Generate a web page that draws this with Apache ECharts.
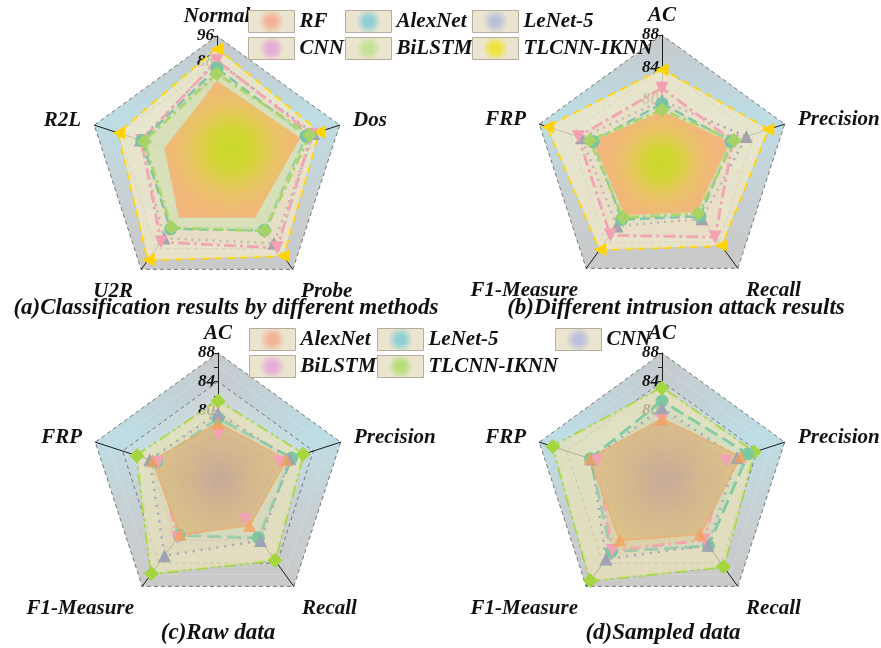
<!DOCTYPE html>
<html>
<head>
<meta charset="utf-8">
<script src="https://cdn.jsdelivr.net/npm/echarts@6/dist/echarts.min.js"></script>
<style>
html, body { margin: 0; padding: 0; background: #fff; }
#main { width: 881px; height: 648px; }
</style>
</head>
<body>
<div id="main"></div>
<script>
// indicator order is counter-clockwise from the top (echarts default)
const attackNames = ['Normal', 'R2L', 'U2R', 'Probe', 'Dos'];
const metricNames = ['AC', 'FRP', 'F1-Measure', 'Recall', 'Precision'];

const methodsAB = ['RF', 'AlexNet', 'LeNet-5', 'CNN', 'BiLSTM', 'TLCNN-IKNN'];
const methodsCD = ['AlexNet', 'LeNet-5', 'CNN', 'BiLSTM', 'TLCNN-IKNN'];

// (a) classification results, [Normal, R2L, U2R, Probe, Dos]
const aRF      = [82.0, 73.0, 76.0, 76.0, 83.0];
const aAlexNet = [86.0, 80.5, 80.5, 81.0, 85.0];
const aLeNet   = [88.0, 81.0, 84.0, 86.0, 87.5];
const aCNN     = [88.3, 80.6, 85.5, 87.7, 86.8];
const aBiLSTM  = [84.3, 79.7, 80.0, 81.2, 86.2];
const aTLCNN   = [92.0, 88.0, 92.3, 90.8, 89.2];

// (b) intrusion attack results, [AC, FRP, F1, Recall, Precision]
const bRF      = [78.5, 81.0, 79.8, 79.3, 80.8];
const bAlexNet = [79.5, 81.0, 80.5, 80.0, 81.0];
const bLeNet   = [79.9, 82.5, 81.5, 80.4, 83.0];
const bCNN     = [81.4, 82.9, 82.9, 83.2, 81.2];
const bBiLSTM  = [78.7, 81.4, 80.2, 79.6, 81.4];
const bTLCNN   = [83.7, 86.9, 85.1, 84.5, 85.8];

// (c) raw data
const cAlexNet = [78.2, 79.6, 79.0, 77.5, 80.0];
const cLeNet   = [78.9, 79.0, 79.2, 79.6, 80.8];
const cCNN     = [79.6, 80.0, 82.7, 80.1, 80.5];
const cBiLSTM  = [76.6, 78.8, 79.6, 76.5, 79.0];
const cTLCNN   = [81.3, 81.9, 85.8, 83.5, 82.5];

// (d) sampled data
const dAlexNet = [78.8, 80.6, 80.0, 79.0, 81.5];
const dLeNet   = [81.3, 80.5, 82.0, 81.0, 82.6];
const dCNN     = [80.3, 80.3, 83.3, 80.9, 81.0];
const dBiLSTM  = [78.5, 79.5, 81.8, 80.0, 79.4];
const dTLCNN   = [83.1, 86.0, 87.0, 84.6, 83.5];

const labelsA = [96, 88, 80];
const labelsB = [88, 84, 80];

const titles = ['(a)Classification results by different methods', '(b)Different intrusion attack results',
                '(c)Raw data', '(d)Sampled data'];

// names sitting at the two lower corners get pushed a bit further down
const lowNames = ['U2R', 'Probe', 'F1-Measure', 'Recall'];

const FONT = { fontFamily: 'Liberation Serif', fontStyle: 'italic', fontWeight: 'bold', color: '#111' };

function radial(stops, r) {
    return new echarts.graphic.RadialGradient(0.5, 0.5, r || 0.6, stops.map(s => ({ offset: s[0], color: s[1] })));
}

function swatch(c) {
    return new echarts.graphic.RadialGradient(0.5, 0.5, 0.55, [
        { offset: 0, color: c }, { offset: 0.35, color: c }, { offset: 1, color: '#ebe4cf' }
    ]);
}

// look of each method, panels (a)/(b); z = drawing order inside the panel
const lookAB = {
    'TLCNN-IKNN': { z: 0, line: '#ffd400', type: [8, 5], w: 3, symbol: 'triangle', rot: 90, sw: '#efe23c',
                    area: 'rgba(238,231,200,0.82)' },
    'LeNet-5':    { z: 1, line: '#a4a4ac', type: [2, 5], w: 2.5, symbol: 'triangle', rot: 0, sw: '#bcc2dc',
                    area: 'rgba(225,222,205,0.2)' },
    'CNN':        { z: 2, line: '#f2a0b2', type: [12, 4, 3, 4], w: 3, symbol: 'triangle', rot: 180, sw: '#e8acd8',
                    area: 'rgba(236,215,190,0.3)' },
    'AlexNet':    { z: 3, line: '#78c4a8', type: [10, 5], w: 2.5, symbol: 'circle', rot: 0, sw: '#8fd0d4',
                    area: 'rgba(190,220,200,0.25)' },
    'BiLSTM':     { z: 4, line: '#a6d266', type: [10, 4, 3, 4], w: 3, symbol: 'diamond', rot: 0, sw: '#c4e296',
                    area: 'rgba(205,228,160,0.35)' },
    'RF':         { z: 5, line: 'rgba(244,162,98,0.5)', type: 'solid', w: 1, symbol: 'none', rot: 0, sw: '#f2b496',
                    area: radial([[0, '#c9d929'], [0.24, '#d2d634'], [0.52, '#e9c466'], [0.78, '#f0b878'], [1, '#f2b67e']], 0.62) }
};

// look of each method, panels (c)/(d)
const lookCD = {
    'TLCNN-IKNN': { z: 0, line: '#a4d640', type: [12, 4, 3, 3, 3, 4], w: 3, symbol: 'diamond', rot: 0, sw: '#b8de78',
                    area: 'rgba(232,226,184,0.75)' },
    'LeNet-5':    { z: 1, line: '#7cc8a0', type: [14, 6], w: 3, symbol: 'circle', rot: 0, sw: '#8fd0d4',
                    area: 'rgba(190,222,190,0.3)' },
    'CNN':        { z: 2, line: '#9ea4b4', type: [2, 6], w: 2.5, symbol: 'triangle', rot: 0, sw: '#bcc2dc',
                    area: 'rgba(215,210,185,0.3)' },
    'BiLSTM':     { z: 3, line: '#f2a2b4', type: [12, 4, 3, 4], w: 3, symbol: 'triangle', rot: 180, sw: '#e8acd8',
                    area: 'rgba(228,200,150,0.45)' },
    'AlexNet':    { z: 4, line: 'rgba(244,160,90,0.75)', type: 'solid', w: 2, symbol: 'triangle', rot: 0, sw: '#f2b496',
                    area: radial([[0, 'rgba(198,166,150,0.92)'], [0.45, 'rgba(208,178,138,0.85)'], [1, 'rgba(222,192,130,0.85)']], 0.62) }
};

function radarItem(name, values, look) {
    return {
        name: name,
        value: values,
        symbol: look.symbol,
        symbolSize: look.symbol === 'diamond' ? 15 : 13,
        symbolRotate: look.rot,
        itemStyle: { color: look.line },
        lineStyle: { color: look.line, width: look.w, type: look.type },
        areaStyle: { color: look.area, opacity: 1 }
    };
}

function band(top, mid, bottom) {
    return new echarts.graphic.LinearGradient(0, 0, 0, 1, [
        { offset: 0, color: top }, { offset: 0.35, color: mid }, { offset: 0.7, color: '#c8d0d3' }, { offset: 1, color: bottom }
    ]);
}

function makeRadar(center, names, min, max, splitNumber, shown, bands, lines) {
    return {
        center: center,
        radius: 129,
        startAngle: 90,
        shape: 'polygon',
        splitNumber: splitNumber,
        axisNameGap: 14,
        axisName: Object.assign({
            fontSize: 21,
            formatter: n => lowNames.indexOf(n) >= 0 ? '{low|' + n + '}' : n,
            rich: { low: Object.assign({ fontSize: 21, padding: [22, 0, 0, 0] }, FONT) }
        }, FONT),
        indicator: names.map((n, i) => {
            const o = { name: n, min: min, max: max };
            if (i === 0) {
                o.nameGap = 9;
                o.axisLabel = {
                    show: true,
                    formatter: v => shown.indexOf(Math.round(v)) >= 0 ? String(Math.round(v)) : ''
                };
                o.axisTick = { show: true, length: 4, lineStyle: { color: '#222' } };
            }
            return o;
        }),
        axisLine: { lineStyle: { color: '#1b1b1b', width: 1 } },
        axisTick: { show: false },
        axisLabel: Object.assign({ show: false, fontSize: 17, margin: 3 }, FONT),
        splitLine: { lineStyle: { color: lines, type: [4, 3], width: 1 } },
        splitArea: { areaStyle: { color: bands } }
    };
}

const outer = band('#c6c9cc', '#bddde5', '#c9c9c9');
const inner = band('#cfd3d4', '#c4dde3', '#cdcfd0');
const bandsA = [inner, inner, inner, inner, outer];
const bandsB = [inner, inner, inner, outer];
const bandsC = [inner, inner, inner, inner, inner, inner, inner, outer, outer];

const radars = [
    makeRadar([217, 165], attackNames, 56, 96, 5, labelsA, bandsA, '#777'),
    makeRadar([662, 164], metricNames, 72, 88, 4, labelsB, bandsB, '#777'),
    makeRadar([218, 482], metricNames, 70, 88, 9, labelsB, bandsC, ['rgba(0,0,0,0)', '#777']),
    makeRadar([662, 482], metricNames, 70, 88, 9, labelsB, bandsC, ['rgba(0,0,0,0)', '#777'])
];

const seriesData = [
    [aRF, aAlexNet, aLeNet, aCNN, aBiLSTM, aTLCNN],
    [bRF, bAlexNet, bLeNet, bCNN, bBiLSTM, bTLCNN],
    [cAlexNet, cLeNet, cCNN, cBiLSTM, cTLCNN],
    [dAlexNet, dLeNet, dCNN, dBiLSTM, dTLCNN]
];

const series = seriesData.map((rows, k) => {
    const methods = k < 2 ? methodsAB : methodsCD;
    const look = k < 2 ? lookAB : lookCD;
    const items = rows.map((vals, i) => radarItem(methods[i], vals, look[methods[i]]));
    items.sort((p, q) => look[p.name].z - look[q.name].z);
    return { type: 'radar', radarIndex: k, silent: true, data: items };
});

function legendCol(left, top, names, look) {
    return {
        orient: 'vertical',
        left: left,
        top: top,
        itemWidth: 46,
        itemHeight: 22,
        itemGap: 4,
        selectedMode: false,
        textStyle: Object.assign({ fontSize: 21 }, FONT),
        data: names.map(n => ({
            name: n,
            icon: 'rect',
            itemStyle: { color: swatch(look[n].sw), borderColor: '#b5ada0', borderWidth: 1 }
        }))
    };
}

const legends = [
    legendCol(243, 5, ['RF', 'CNN'], lookAB),
    legendCol(340, 5, ['AlexNet', 'BiLSTM'], lookAB),
    legendCol(467, 5, ['LeNet-5', 'TLCNN-IKNN'], lookAB),
    legendCol(244, 323, ['AlexNet', 'BiLSTM'], lookCD),
    legendCol(372, 323, ['LeNet-5', 'TLCNN-IKNN'], lookCD),
    legendCol(550, 323, ['CNN'], lookCD)
];

const titlePos = [[226, 297], [676, 297], [218, 622], [663, 622]];

const chart = echarts.init(document.getElementById('main'));
chart.setOption({
    backgroundColor: '#fff',
    animation: false,
    title: titles.map((t, i) => ({
        text: t,
        left: titlePos[i][0],
        top: titlePos[i][1],
        textAlign: 'center',
        padding: 0,
        textStyle: Object.assign({ fontSize: 23 }, FONT)
    })),
    legend: legends,
    radar: radars,
    series: series
});
</script>
</body>
</html>
